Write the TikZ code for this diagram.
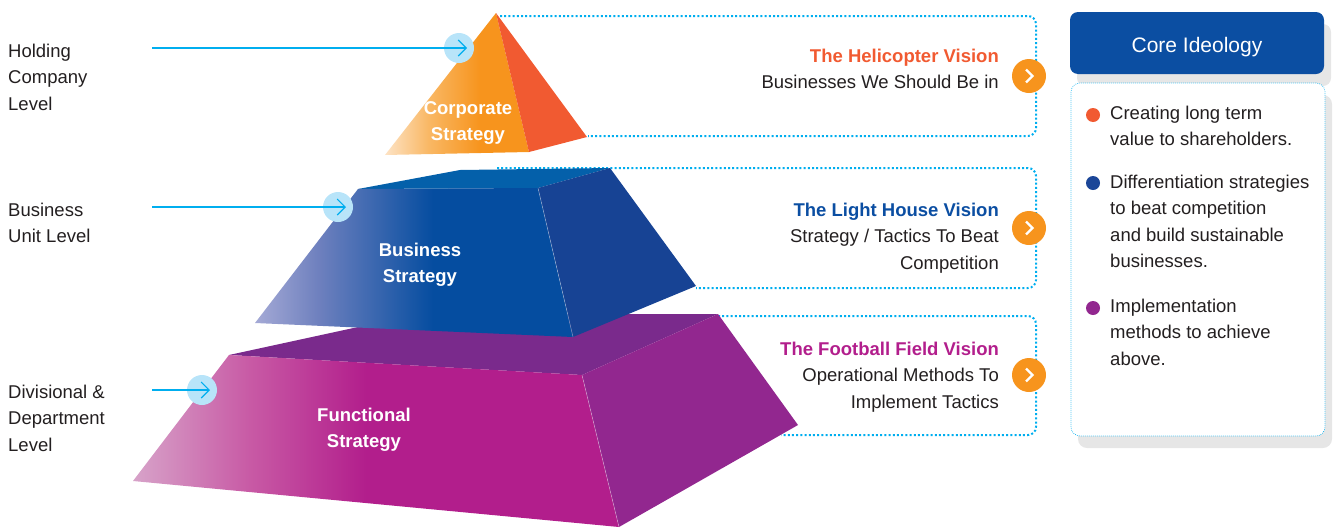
\documentclass[tikz,border=0pt]{standalone}
\usepackage{fontspec}
\setmainfont{Liberation Sans}
\usepackage{tikz}
\usetikzlibrary{arrows.meta, shadows}

\definecolor{ink}{RGB}{35,31,32}
\definecolor{skyline}{RGB}{0,174,239}
\definecolor{dotblue}{RGB}{184,228,249}
\definecolor{corpOrange}{RGB}{247,148,29}
\definecolor{corpMid}{RGB}{249,184,101}
\definecolor{corpLight}{RGB}{253,227,197}
\definecolor{corpRed}{RGB}{241,90,49}
\definecolor{busTop}{RGB}{4,96,170}
\definecolor{busFront}{RGB}{5,77,160}
\definecolor{busMid}{RGB}{110,128,190}
\definecolor{busLight}{RGB}{165,170,214}
\definecolor{busSide}{RGB}{23,67,148}
\definecolor{busBlue}{RGB}{27,70,152}
\definecolor{funcTop}{RGB}{122,42,140}
\definecolor{funcFront}{RGB}{178,30,140}
\definecolor{funcMid}{RGB}{200,90,165}
\definecolor{funcLight}{RGB}{215,163,201}
\definecolor{funcSide}{RGB}{146,39,143}
\definecolor{headBlue}{RGB}{11,78,162}
\definecolor{shadowGray}{RGB}{230,230,230}

% left-to-right fades for the front faces
\pgfdeclarehorizontalshading{corpfade}{100bp}{color(0bp)=(corpLight); color(25bp)=(corpLight); color(40bp)=(corpMid); color(58bp)=(corpOrange); color(100bp)=(corpOrange)}
\pgfdeclarehorizontalshading{busfade}{100bp}{color(0bp)=(busLight); color(25bp)=(busLight); color(35bp)=(busMid); color(53bp)=(busFront); color(100bp)=(busFront)}
\pgfdeclarehorizontalshading{funcfade}{100bp}{color(0bp)=(funcLight); color(25bp)=(funcLight); color(37bp)=(funcMid); color(49bp)=(funcFront); color(100bp)=(funcFront)}

\begin{document}
\begin{tikzpicture}[x=1pt, y=-1pt,
  every node/.style={font=\fontsize{18.5}{26.3}\selectfont, text=ink, inner sep=0pt},
  levellabel/.style={anchor=north west, align=left},
  facelabel/.style={anchor=north, align=center, text=white, font=\fontsize{18.5}{26.3}\selectfont\bfseries},
  visiontext/.style={anchor=north east, align=right},
  visionline/.style={draw=skyline, line width=2pt, dash pattern=on 2pt off 2.2pt, rounded corners=8pt},
  leveldot/.style={circle, fill=dotblue, minimum size=30pt},
  levelarrow/.style={draw=skyline, line width=1.1pt, -{Straight Barb[length=8pt, width=16pt, line width=1.1pt]}},
  nextbtn/.style={circle, fill=corpOrange, minimum size=34pt,
    path picture={\draw[white, line width=2.2pt] ([xshift=-3pt, yshift=6.5pt]path picture bounding box.center) -- ([xshift=3.5pt]path picture bounding box.center) -- ([xshift=-3pt, yshift=-6.5pt]path picture bounding box.center);}},
  headbox/.style={fill=headBlue, rounded corners=8pt, minimum width=254pt, minimum height=62pt, text=white, font=\fontsize{21}{25}\selectfont,
    text height=19pt, text depth=0pt,
    general shadow={fill=shadowGray, shadow xshift=7pt, shadow yshift=-12pt}},
  corebox/.style={draw=skyline, line width=0.7pt, dash pattern=on 0.7pt off 1.3pt, fill=white, rounded corners=9pt, minimum width=254pt, minimum height=353pt,
    general shadow={fill=shadowGray, draw=none, shadow xshift=7pt, shadow yshift=-12pt}},
  bulletdot/.style={circle, minimum size=14pt},
  itemtext/.style={anchor=north west, align=left},
  faceedge/.style={draw=white, opacity=0.45, line width=0.5pt}]

  \useasboundingbox (0,0) rectangle (1333,528);

  % Dotted vision frames (behind the pyramid)
  \draw[visionline] (500,16) -- (1036,16) -- (1036,136) -- (588,136);
  \draw[visionline] (497,168) -- (1036,168) -- (1036,288) -- (696,288);
  \draw[visionline] (718,316) -- (1036,316) -- (1036,435) -- (781,435);

  % Functional block
  \fill[funcTop] (229,355) -- (418,314) -- (718,314) -- (582,375) -- cycle;
  \shade[shading=funcfade] (229,355) -- (582,375) -- (619,527) -- (133,481) -- cycle;
  \fill[funcSide] (582,375) -- (718,314) -- (798,425) -- (619,527) -- cycle;
  \draw[faceedge] (582,375) -- (619,527);

  % Business block
  \fill[busTop] (358,189) -- (460,170) -- (610,168) -- (538,188) -- cycle;
  \shade[shading=busfade] (358,189) -- (538,188) -- (573,337) -- (255,323) -- cycle;
  \fill[busSide] (538,188) -- (610,168) -- (696,286) -- (573,337) -- cycle;
  \draw[faceedge] (538,188) -- (573,337);

  % Corporate tip
  \shade[shading=corpfade] (496,13) -- (529,152) -- (385,155) -- cycle;
  \fill[corpRed] (496,13) -- (587,137) -- (529,152) -- cycle;

  \node[facelabel] (corplabel) at (468,101) {Corporate\\Strategy};
  \node[facelabel] (buslabel) at (420,243) {Business\\Strategy};
  \node[facelabel] (funclabel) at (364,408) {Functional\\Strategy};

  % Levels on the left
  \node[levellabel] (holding) at (8,44) {Holding\\Company\\Level};
  \node[levellabel] (unit) at (8,203) {Business\\Unit Level};
  \node[levellabel] (division) at (8,385) {Divisional \&\\Department\\Level};

  \node[leveldot] (corpdot) at (459,48) {};
  \node[leveldot] (busdot) at (338,207) {};
  \node[leveldot] (funcdot) at (202,390) {};
  \coordinate (corpin) at (152,48);
  \coordinate (busin) at (152,207);
  \coordinate (funcin) at (152,390);
  \draw[levelarrow] (corpin) -- ([xshift=8pt]corpdot.center);
  \draw[levelarrow] (busin) -- ([xshift=8pt]busdot.center);
  \draw[levelarrow] (funcin) -- ([xshift=8pt]funcdot.center);

  % Visions
  \node[visiontext] (helitext) at (999,49) {\textbf{\color{corpRed}The Helicopter Vision}\\Businesses We Should Be in};
  \node[visiontext] (lighttext) at (999,203) {\textbf{\color{headBlue}The Light House Vision}\\Strategy / Tactics To Beat\\Competition};
  \node[visiontext] (foottext) at (999,342) {\textbf{\color{funcFront}The Football Field Vision}\\Operational Methods To\\Implement Tactics};

  \node[nextbtn] (helibtn) at (1029,76) {};
  \node[nextbtn] (lightbtn) at (1029,228) {};
  \node[nextbtn] (footbtn) at (1029,375) {};

  % Core ideology panel
  \node[headbox] (corehead) at (1197,43) {Core Ideology};
  \node[corebox] (corebody) at (1198,259.5) {};

  \node[bulletdot, fill=corpRed] (dotone) at (1093,115) {};
  \node[itemtext] (itemone) at (1110,106) {Creating long term\\value to shareholders.};
  \node[bulletdot, fill=busBlue] (dottwo) at (1093,183) {};
  \node[itemtext] (itemtwo) at (1110,175) {Differentiation strategies\\to beat competition\\and build sustainable\\businesses.};
  \node[bulletdot, fill=funcSide] (dotthree) at (1093,308) {};
  \node[itemtext] (itemthree) at (1110,299) {Implementation\\methods to achieve\\above.};
\end{tikzpicture}
\end{document}
